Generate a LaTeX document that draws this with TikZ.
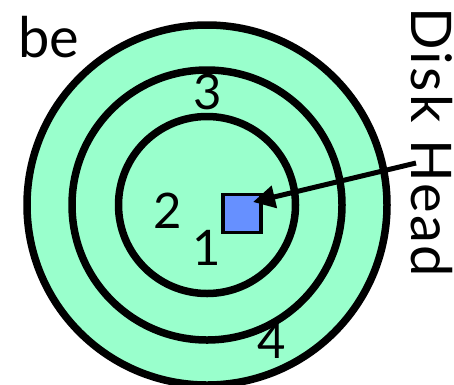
\documentclass[tikz,border=0pt]{standalone}
\usepackage{fontspec}
\setmainfont{Lato}
\usepackage{tikz}
\usetikzlibrary{arrows.meta}
\definecolor{plattercolor}{HTML}{99FFCC}
\definecolor{headcolor}{HTML}{6690FF}
\tikzset{
  track/.style={
    draw=black,
    circle,
    line width=7.5pt,
    inner sep=0pt
  },
  headbox/.style={
    draw=black,
    fill=headcolor,
    line width=3.5pt,
    minimum size=38pt,
    inner sep=0pt
  },
  tracklabel/.style={
    inner sep=0pt,
    font=\fontsize{49}{49}\selectfont
  },
  bigtext/.style={
    inner sep=0pt,
    font=\fontsize{56}{56}\selectfont
  },
  pointer/.style={-{Triangle[length=22pt,width=22pt]},line width=5pt,draw=black}
}

\begin{document}
\begin{tikzpicture}[x=1pt,y=-1pt]
  \useasboundingbox (0,0) rectangle (454,384);
  \begin{scope}
    \clip (0,0) rectangle (454,384);
    \node[track, fill=plattercolor, minimum size=360pt] (outer) at (207,205) {};
    \node[track, minimum size=270pt] (middle) at (207,205) {};
    \node[track, minimum size=177pt] (inner) at (207,205) {};
  \end{scope}
  \node[headbox] (head) at (242,213.5) {};
  \node[tracklabel] (one) at (207,248) {1};
  \node[tracklabel] (two) at (168,211) {2};
  \node[tracklabel] (three) at (208,91.5) {3};
  \node[tracklabel] (four) at (272,341) {4};
  \node[bigtext, anchor=base west] (be) at (18,57) {be};
  \node[bigtext, anchor=base, rotate=-90] (label) at (411,142)
    {\addfontfeature{LetterSpace=4}Disk Head};
  \coordinate (tail) at (416,163);
  \coordinate (tip) at (253,202);
  \draw[pointer] (tail) -- (tip);
\end{tikzpicture}
\end{document}
